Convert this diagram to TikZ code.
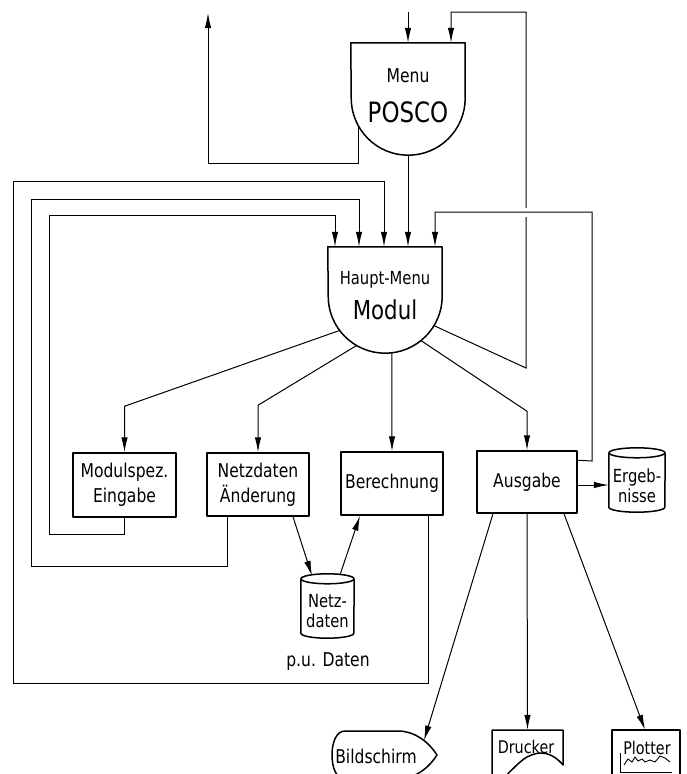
\documentclass[tikz,border=0pt]{standalone}
\usepackage{fontspec}
\newfontfamily\din[FakeStretch=0.82]{DejaVu Sans}
\usetikzlibrary{arrows.meta,calc}
\begin{document}
\begin{tikzpicture}[x=1pt,y=-1pt,
  shp/.style={line width=1.5pt, line join=round},
  con/.style={line width=1pt},
  arr/.style={con, -{Latex[length=15pt,width=6.5pt]}},
  lbl/.style={font=\din\fontsize{19}{25}\selectfont, align=center, inner sep=0pt},
  lblsm/.style={font=\din\fontsize{18}{20}\selectfont, align=center, inner sep=0pt},
  boxn/.style={shp, draw, rectangle, inner sep=0pt, font=\din\fontsize{19}{25}\selectfont, align=center},
  area/.style={rectangle, inner sep=0pt, draw=none}]

\useasboundingbox (0,0) rectangle (686,774);
\clip (0,0) rectangle (686,774);

% ---------- POSCO menu
\node[area, minimum width=114pt, minimum height=112pt] (posco) at (408,99) {};
\coordinate (pc) at ($(posco.south)+(0,-57)$);
\draw[shp] (posco.north west) -- (posco.north east) -- ($(posco.south east)+(0,-57)$)
  arc[start angle=0,end angle=180,radius=57] -- cycle;
\node[lbl] (poscot1) at (408,76) {Menu};
\node[lbl, font=\din\fontsize{28}{30}\selectfont] (poscot2) at (408,112) {POSCO};

% ---------- Haupt-Menu Modul
\node[area, minimum width=114pt, minimum height=106pt] (modul) at (385,300) {};
\coordinate (mc) at ($(modul.south)+(0,-57)$);
\draw[shp] (modul.north west) -- (modul.north east) -- ($(modul.south east)+(0,-57)$)
  arc[start angle=0,end angle=180,radius=57] -- cycle;
\node[lbl, font=\din\fontsize{18}{20}\selectfont] (modult1) at (385,280) {Haupt-Menu};
\node[lbl, font=\din\fontsize{26}{28}\selectfont] (modult2) at (385,310) {Modul};

% ---------- boxes
\node[boxn, minimum width=103pt, minimum height=64pt] (mspez) at (124.5,485) {Modulspez.\\Eingabe};
\node[boxn, minimum width=102pt, minimum height=63pt] (naend) at (258,484.5) {Netzdaten\\Änderung};
\node[boxn, minimum width=102pt, minimum height=63pt] (berech) at (392,483.5) {Berechnung};
\node[boxn, minimum width=100pt, minimum height=62pt] (ausg) at (527,482) {Ausgabe};

% ---------- cylinders
\node[area, minimum width=56pt, minimum height=64pt] (ergeb) at (637,480) {};
\draw[shp] ($(ergeb.north west)+(0,5)$) -- ($(ergeb.south west)+(0,-5)$)
  arc[start angle=180,end angle=0,x radius=28,y radius=5] -- ($(ergeb.north east)+(0,5)$);
\draw[shp] ($(ergeb.north)+(0,5)$) ellipse[x radius=28,y radius=5];
\node[lblsm] (ergebt) at (637,486) {Ergeb-\\nisse};

\node[area, minimum width=53pt, minimum height=64pt] (netz) at (327.5,606) {};
\draw[shp] ($(netz.north west)+(0,5)$) -- ($(netz.south west)+(0,-5)$)
  arc[start angle=180,end angle=0,x radius=26.5,y radius=5] -- ($(netz.north east)+(0,5)$);
\draw[shp] ($(netz.north)+(0,5)$) ellipse[x radius=26.5,y radius=5];
\node[lblsm] (netzt) at (327.5,611) {Netz-\\daten};

\node[lbl] (pud) at (328,662) {p.u. Daten};

% ---------- output devices
\node[area, minimum width=105pt, minimum height=48pt] (bild) at (384.5,755) {};
\draw[shp] (345,731) -- (398,731) .. controls (414,731) and (428,741) .. (437,755)
  coordinate[pos=0.6] (bildin)
  .. controls (428,769) and (414,779) .. (398,779) -- (345,779)
  .. controls (336,779) and (332,767) .. (332,755)
  .. controls (332,743) and (336,731) .. (345,731) -- cycle;
\node[lbl] (bildt) at (376,756) {Bildschirm};

\node[area, minimum width=71pt, minimum height=50pt] (druck) at (527.5,755) {};
\draw[shp] (492,790) -- (492,730) -- (563,730) -- (563,765)
  .. controls (552,752) and (540,750) .. (527,757)
  .. controls (515,764) and (503,782) .. (492,785);
\node[lblsm, font=\din\fontsize{17.5}{20}\selectfont] (druckt) at (526,747) {Drucker};

\node[area, minimum width=68pt, minimum height=60pt] (plot) at (646,760) {};
\draw[shp] (612,790) -- (612,730) -- (680,730) -- (680,790);
\node[lblsm, font=\din\fontsize{17.5}{20}\selectfont] (plott) at (647,748) {Plotter};
\draw[line width=0.9pt] (620,753) -- (620,772) -- (672,772);
\draw[line width=0.9pt] (624,765) -- (628,759) -- (632,762) -- (635,757) -- (638,761) -- (642,759)
  -- (645,762) -- (650,760) -- (655,762) -- (660,756) -- (665,758) -- (670,762);

% ---------- connectors
\coordinate (in) at (408,12);
\coordinate (out) at (208,13);
\draw[arr] (in) -- (posco.north);
\coordinate (pexit) at ($(pc)+(151:57)$);
\draw[arr] (pexit) -- (pexit |- 0,163) -| (out);
\draw[arr] (posco.south) -- ($(modul.north)+(23,0)$);

\draw[arr] ($(mc)+(143:57)$) -- ($(mspez.north)+(0,-46)$) -- (mspez.north);
\draw[arr] ($(mc)+(120:57)$) -- ($(naend.north)+(0,-47)$) -- (naend.north);
\draw[arr] ($(mc)+(83:57)$) -- (berech.north);
\draw[arr] ($(mc)+(51:57)$) -- ($(ausg.north)+(0,-39)$) -- (ausg.north);

\draw[arr] ($(mc)+(31:57)$) -- (526,368) -- (526,217) (526,208) -- (526,12) -| ($(posco.north)+(43,0)$);
\draw[arr] ($(ausg.north east)+(0,10)$) -- (592,461) -- (592,212) -| ($(modul.north)+(50,0)$);
\draw[arr] ($(ausg.east)+(0,3)$) -- ($(ergeb.west)+(0,5)$);

\draw[arr] (mspez.south) -- ++(0,17) -| (49,215) -| ($(modul.north)+(-50,0)$);
\draw[arr] ($(naend.south)+(-31,0)$) -- ++(0,50) -| (31,199) -| ($(modul.north)+(-26,0)$);
\draw[arr] ($(berech.south)+(36,0)$) -- ++(0,168) -| (13,181) -| ($(modul.north)+(-1,0)$);

\draw[arr] ($(naend.south)+(35,0)$) -- ($(netz.north)+(-15.5,2)$);
\draw[arr] ($(netz.north)+(12.5,1)$) -- ($(berech.south)+(-32,0)$);

\draw[arr] ($(ausg.south)+(-34,0)$) -- (bildin);
\draw[arr] (ausg.south) -- (druck.north);
\draw[arr] ($(ausg.south)+(37,0)$) -- ($(plot.north)+(-1,0)$);
\end{tikzpicture}
\end{document}
